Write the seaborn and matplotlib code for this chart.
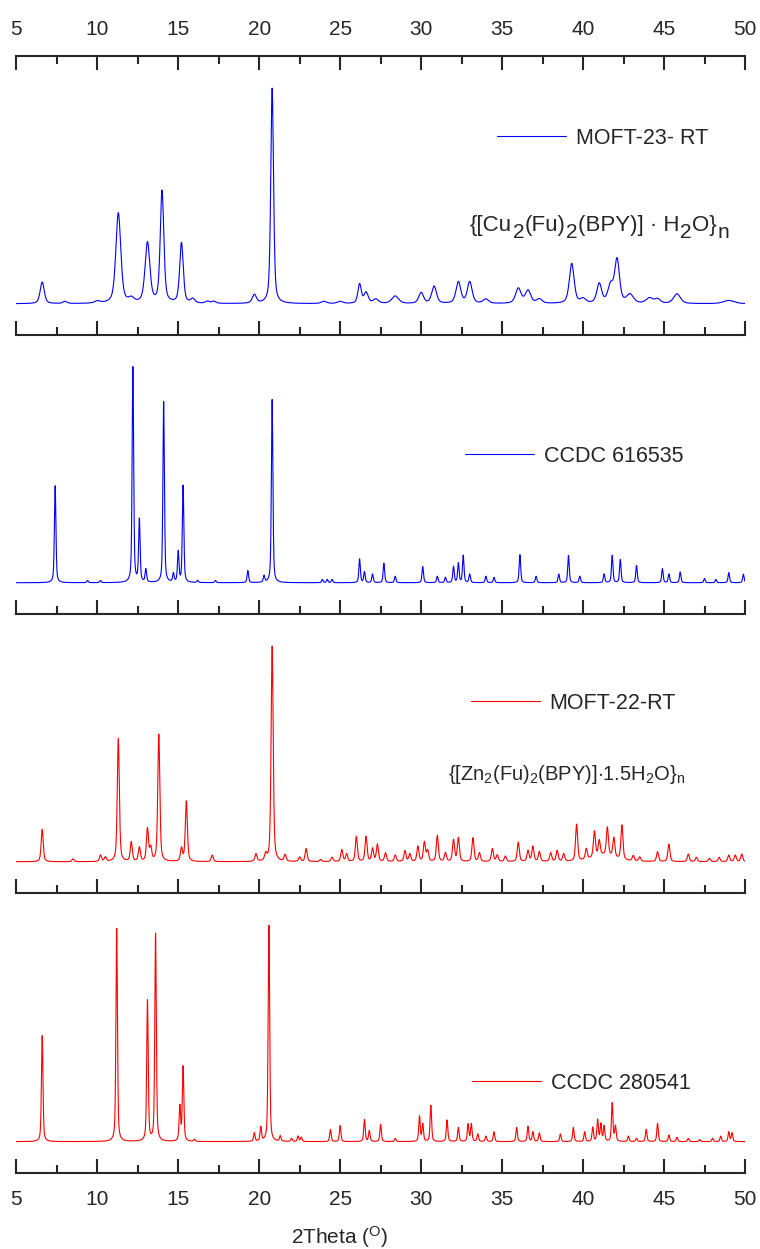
import numpy as np
import pandas as pd
import matplotlib
matplotlib.use("Agg")
import matplotlib.pyplot as plt
import seaborn as sns

# peak lists (2theta position, relative height, fwhm)
moft23_pos = [6.6, 8.0, 10.0, 11.3, 12.1, 13.1, 14.0, 15.2, 15.9, 16.8, 17.2, 19.7, 20.8,
              24.0, 25.0, 26.2, 26.6, 27.2, 28.4, 30.0, 30.8, 32.3, 33.0, 34.0, 36.0, 36.6,
              37.3, 39.3, 40.0, 41.0, 41.7, 42.1, 42.9, 44.1, 44.6, 45.8, 49.0]
moft23_h = [10, 1, 1, 42, 2, 28, 52, 28, 2, 1, 1, 4, 100,
            1, 1, 9, 5, 2, 3.5, 5, 8, 10, 10, 2, 7, 6,
            2, 18.5, 2, 9, 8, 20, 4, 2.5, 2, 4.5, 1.5]
moft23_w = [0.3, 0.3, 0.4, 0.36, 0.4, 0.35, 0.26, 0.26, 0.3, 0.3, 0.3, 0.3, 0.2,
            0.4, 0.4, 0.25, 0.3, 0.4, 0.5, 0.35, 0.35, 0.35, 0.35, 0.4, 0.4, 0.4,
            0.4, 0.35, 0.4, 0.35, 0.4, 0.35, 0.5, 0.5, 0.4, 0.5, 0.8]

ccdc616_pos = [7.4, 9.4, 10.2, 12.2, 12.6, 13.0, 14.1, 14.7, 15.0, 15.3, 16.2, 17.3, 19.3,
               20.3, 20.8, 23.9, 24.2, 24.5, 26.2, 26.5, 27.0, 27.7, 28.4, 30.1, 31.0, 31.5,
               32.0, 32.3, 32.6, 33.0, 34.0, 34.5, 36.1, 37.1, 38.5, 39.1, 39.8, 41.3, 41.8,
               42.3, 43.3, 44.9, 45.3, 46.0, 47.5, 48.2, 49.0, 49.9]
ccdc616_h = [45, 1, 1, 100, 29, 6, 84, 4, 14, 45, 1, 1, 5.6,
             3, 85, 1.5, 1.5, 1.5, 11, 5, 4, 9, 3, 7.5, 3, 2.5,
             7.5, 9, 12.6, 4, 3, 2.5, 13, 3, 4, 12.6, 3, 4, 12.6,
             10.7, 8, 6.5, 4, 5, 2, 1.5, 4.7, 4]

moft22_pos = [6.6, 8.5, 10.2, 10.5, 11.3, 12.1, 12.6, 13.1, 13.3, 13.8, 15.2, 15.5, 17.1,
              19.8, 20.4, 20.8, 21.6, 22.5, 22.9, 23.8, 24.5, 25.1, 25.4, 26.0, 26.6, 27.0,
              27.3, 27.8, 28.4, 29.0, 29.3, 29.8, 30.2, 30.4, 31.0, 31.5, 32.0, 32.3, 33.2,
              33.6, 34.4, 34.7, 35.2, 36.0, 36.6, 36.9, 37.3, 38.0, 38.4, 38.8, 39.6, 40.2,
              40.7, 41.0, 41.5, 41.9, 42.4, 43.1, 43.5, 44.6, 45.3, 46.5, 47.0, 47.8, 48.4,
              49.0, 49.4, 49.8, 41.3]
moft22_h = [15, 1.3, 3, 2, 57, 9, 6.5, 15, 6, 59, 6, 28, 3,
            3.5, 3, 100, 3, 2, 6, 1, 2, 5.5, 3.5, 11.6, 11.6, 6,
            8, 4, 3, 5, 3.5, 7, 9, 5, 12, 4, 10, 11, 11,
            4, 6, 3, 2.5, 9, 5, 7, 4.5, 4, 5, 3.5, 17, 5,
            12, 7, 13, 9, 16, 2.5, 2, 4.5, 8, 3.5, 2, 1.5, 2,
            3, 3, 3.5, 3]
moft22_w = [0.15] * 68 + [1.6]

ccdc280_pos = [6.6, 11.2, 13.1, 13.6, 15.1, 15.3, 16.0, 19.7, 20.1, 20.6, 21.3, 22.0, 22.4,
               22.6, 24.4, 25.0, 26.5, 26.8, 27.5, 28.4, 29.9, 30.1, 30.6, 31.6, 32.3, 32.9,
               33.1, 33.5, 34.0, 34.5, 35.9, 36.6, 36.9, 37.3, 38.6, 39.4, 40.1, 40.6, 40.9,
               41.1, 41.3, 41.8, 42.0, 42.8, 43.3, 43.9, 44.6, 45.3, 45.8, 46.5, 47.2, 48.0,
               48.5, 49.0, 49.2]
ccdc280_h = [49, 98.6, 65, 96, 16, 34.5, 1, 4, 6.5, 100, 2.5, 1.5, 2.5,
             2, 5.6, 7.4, 10.2, 5, 8, 1.5, 11.6, 8, 16.7, 10, 6.5, 8,
             8, 3.5, 2.5, 4.5, 6.5, 7, 4.5, 4, 3.5, 6.5, 4.5, 6.5, 10,
             8, 7, 17.7, 7, 2.5, 1.5, 5.6, 8.4, 3, 2, 1.5, 1, 1.5,
             2.5, 4.5, 4]

labels = ["MOFT-23- RT", "CCDC 616535", "MOFT-22-RT", "CCDC 280541"]
colors = ["#0000ff", "#0000ff", "#ff0000", "#ff0000"]

twotheta = np.arange(5, 50.005, 0.01)


def profile(pos, h, w, eta=0.5):
    y = np.zeros_like(twotheta)
    for c, a, f in zip(pos, h, w):
        d = (twotheta - c) / (f / 2)
        lor = 1 / (1 + d ** 2)
        gau = np.exp(-np.log(2) * d ** 2)
        y += a * (eta * lor + (1 - eta) * gau)
    return y


patterns = [
    profile(moft23_pos, moft23_h, moft23_w),
    profile(ccdc616_pos, ccdc616_h, [0.11] * len(ccdc616_pos)),
    profile(moft22_pos, moft22_h, moft22_w),
    profile(ccdc280_pos, ccdc280_h, [0.11] * len(ccdc280_pos)),
]

sns.set_style("ticks")
plt.rcParams["font.family"] = ["Liberation Sans", "DejaVu Sans"]
plt.rcParams["mathtext.fontset"] = "custom"
plt.rcParams["mathtext.rm"] = "Liberation Sans"
plt.rcParams["mathtext.it"] = "Liberation Sans:italic"

fig = plt.figure(figsize=(7.6, 12.49), dpi=100)
W, H = 760, 1249
x0, x1 = 16.3, 745
tops = [56, 335, 614, 893]
bots = [335, 614, 893, 1173]
leg_pos = [(0.6597, 0.706), (0.6157, 0.566), (0.624, 0.681), (0.6254, 0.321)]

axes = []
for i in range(4):
    ax = fig.add_axes([x0 / W, 1 - bots[i] / H, (x1 - x0) / W, (bots[i] - tops[i]) / H])
    df = pd.DataFrame({"2theta": twotheta, "I": patterns[i]})
    sns.lineplot(data=df, x="2theta", y="I", ax=ax, color=colors[i], linewidth=0.8,
                 estimator=None, label=labels[i])
    ax.set_xlim(5, 50)
    ax.set_ylim(-14.5, 115)
    ax.set_xticks(np.arange(5, 51, 5))
    ax.set_xticks(np.arange(5, 50.1, 2.5), minor=True)
    ax.set_yticks([])
    ax.set_xlabel("")
    ax.set_ylabel("")
    for s in ["left", "right", "top"]:
        ax.spines[s].set_visible(False)
    ax.spines["bottom"].set_linewidth(1.5)
    ax.tick_params(axis="x", which="major", direction="in", length=10, width=1.5,
                   labelsize=15, labelbottom=False, pad=12)
    ax.tick_params(axis="x", which="minor", direction="in", length=5.5, width=1.5)
    ax.legend(loc="center left", bbox_to_anchor=leg_pos[i], frameon=False, fontsize=15.5,
              handlelength=3.2, handletextpad=0.45, borderpad=0, borderaxespad=0)
    ax.patch.set_alpha(0)
    axes.append(ax)

axes[0].spines["top"].set_visible(True)
axes[0].spines["top"].set_linewidth(1.5)
axes[0].tick_params(axis="x", which="both", top=True, labeltop=True)
axes[3].tick_params(axis="x", which="major", labelbottom=True)

# Cu formula: subscripts nearly full size, so write it piece by piece
renderer = fig.canvas.get_renderer()
cu_pieces = [("{[Cu", 0), ("2", -7), ("(Fu)", 0), ("2", -7), ("(BPY)] · H", 0),
             ("2", -7), ("O}", 0), ("n", -7)]
xpx, ybase = 470, 231
for s, dy in cu_pieces:
    t = fig.text(xpx / W, 1 - (ybase - dy) / H, s, fontsize=16 if dy == 0 else 15,
                 va="baseline", ha="left")
    xpx = t.get_window_extent(renderer).x1 + 0.5

axes[2].text(0.5924, 0.405, r"{[Zn$_2$(Fu)$_2$(BPY)]$\cdot$1.5H$_2$O}$_\mathrm{n}$",
             transform=axes[2].transAxes, fontsize=14.5, va="baseline", ha="left")

fig.text(340 / W, 1 - 1237 / H, r"2Theta ($^\mathrm{O}$)", fontsize=15, ha="center", va="center")

fig.savefig("out.png", dpi=100)
